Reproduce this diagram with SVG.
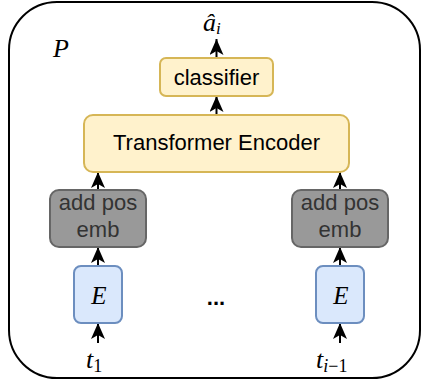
<svg xmlns="http://www.w3.org/2000/svg" width="422" height="383" viewBox="0 0 422 383">
<style>
.lbl{font-family:"Liberation Sans",Arial,sans-serif;font-size:22px;text-anchor:middle}
.math{font-family:"Liberation Serif","Times New Roman",serif;font-style:italic}
.y{fill:#fff2cc;stroke:#d6b656;stroke-width:2}
.g{fill:#999999;stroke:#666666;stroke-width:2}
.b{fill:#dae8fc;stroke:#6c8ebf;stroke-width:2}
.edge{stroke:#000;stroke-width:2;fill:none}
</style>
<defs>
<marker id="ah" markerUnits="userSpaceOnUse" viewBox="0 0 16 14" refX="16" refY="7" markerWidth="16" markerHeight="14" orient="auto">
<path d="M16,7 L0,0 L4,7 L0,14 Z" fill="#000"/>
</marker>
</defs>
<g id="outer">
<rect x="9" y="2" width="411" height="376" rx="48" ry="48" fill="#fff" stroke="#000" stroke-width="2"/>
<text class="math" x="53" y="57" font-size="26">P</text>
</g>
<g id="edges">
<line class="edge" x1="216.5" y1="58" x2="216.5" y2="39" marker-end="url(#ah)"/>
<line class="edge" x1="216.5" y1="115" x2="216.5" y2="96" marker-end="url(#ah)"/>
<line class="edge" x1="98" y1="190" x2="98" y2="172" marker-end="url(#ah)"/>
<line class="edge" x1="340" y1="190" x2="340" y2="172" marker-end="url(#ah)"/>
<line class="edge" x1="98" y1="266" x2="98" y2="247" marker-end="url(#ah)"/>
<line class="edge" x1="340" y1="266" x2="340" y2="247" marker-end="url(#ah)"/>
<line class="edge" x1="98" y1="343" x2="98" y2="323" marker-end="url(#ah)"/>
<line class="edge" x1="340" y1="343" x2="340" y2="323" marker-end="url(#ah)"/>
</g>
<g id="output">
<text class="math" x="203" y="31" font-size="26">â<tspan font-size="17" dy="3">i</tspan></text>
</g>
<g id="classifier">
<rect class="y" x="160" y="58" width="113" height="38" rx="6"/>
<text class="lbl" x="216.5" y="84.5">classifier</text>
</g>
<g id="encoder">
<rect class="y" x="84" y="115" width="265" height="57" rx="9"/>
<text class="lbl" x="216.5" y="150">Transformer Encoder</text>
</g>
<g id="pos1">
<rect class="g" x="50" y="190" width="96" height="57" rx="9"/>
<text class="lbl" x="98" y="210" fill="#333333">add pos</text>
<text class="lbl" x="98" y="237" fill="#333333">emb</text>
</g>
<g id="pos2">
<rect class="g" x="292" y="190" width="96" height="57" rx="9"/>
<text class="lbl" x="340" y="210" fill="#333333">add pos</text>
<text class="lbl" x="340" y="237" fill="#333333">emb</text>
</g>
<g id="e1">
<rect class="b" x="74" y="266" width="48" height="57" rx="7"/>
<text class="math" x="99" y="304" font-size="25" text-anchor="middle">E</text>
</g>
<g id="e2">
<rect class="b" x="316" y="266" width="48" height="57" rx="7"/>
<text class="math" x="341" y="304" font-size="25" text-anchor="middle">E</text>
</g>
<g id="dots">
<text class="lbl" x="216" y="305" font-weight="bold">...</text>
</g>
<g id="t1">
<text class="math" x="86" y="368" font-size="26">t<tspan font-style="normal" font-size="18" dy="4">1</tspan></text>
</g>
<g id="t2">
<text class="math" x="316" y="368" font-size="26">t<tspan font-size="18" dy="4">i<tspan font-style="normal">−1</tspan></tspan></text>
</g>
</svg>
